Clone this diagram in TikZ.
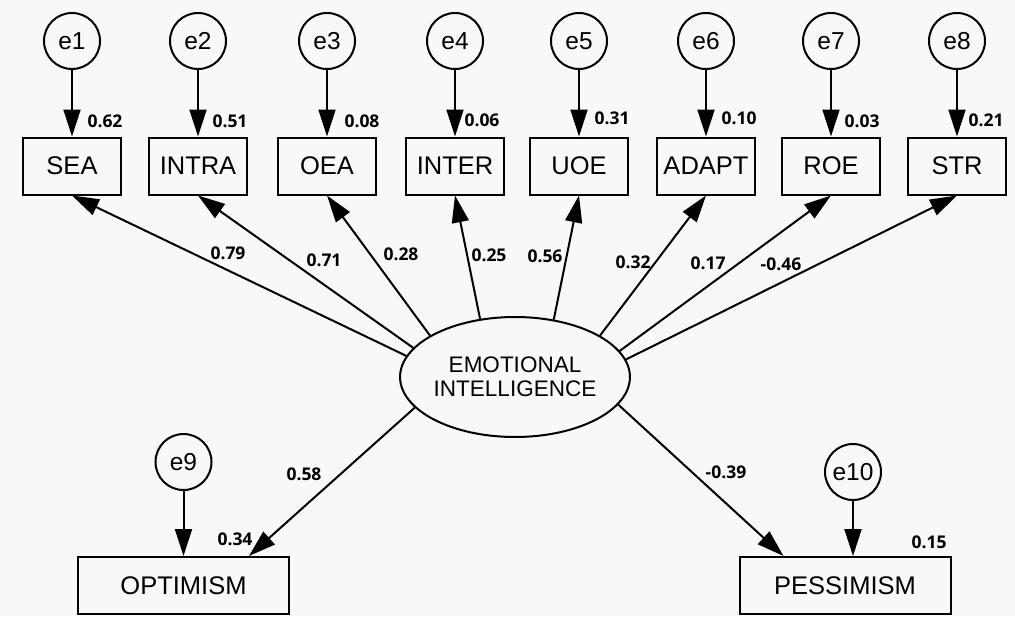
\documentclass[tikz,border=0pt]{standalone}
\usepackage{fontspec}
\setmainfont{Liberation Sans}
\newfontfamily\numfont{Open Sans}
\usetikzlibrary{shapes.geometric,arrows.meta,calc}
\definecolor{bgc}{HTML}{F8F8F8}
\begin{document}
\begin{tikzpicture}[x=1pt,y=-1pt,
  every node/.style={inner sep=0pt},
  obs/.style={draw,line width=2pt,minimum width=98pt,minimum height=57pt,font=\fontsize{25.5}{30}\selectfont},
  obsw/.style={obs,minimum width=211pt},
  err/.style={draw,circle,line width=2pt,minimum size=56pt,font=\fontsize{24.5}{28}\selectfont},
  lat/.style={draw,ellipse,line width=2pt,minimum width=194pt,minimum height=120pt,align=center,font=\fontsize{22.5}{24}\selectfont},
  arr/.style={line width=2pt,-{Triangle[length=27pt,width=17pt]}},
  coef/.style={font=\numfont\bfseries\fontsize{17.5}{19}\selectfont},
]
\fill[bgc] (0,0) rectangle (1015,616);
\useasboundingbox (0,0) rectangle (1015,616);

% latent
\node[lat] (ei) at (515,377) {EMOTIONAL\\INTELLIGENCE};

% indicators
\foreach \n/\t/\x/\e/\v/\lx/\ly in {
  sea/SEA/72/e1/0.62/105/121,
  intra/INTRA/198/e2/0.51/230/121,
  oea/OEA/327/e3/0.08/362/121,
  inter/INTER/455/e4/0.06/482/120,
  uoe/UOE/579/e5/0.31/612/118,
  adapt/ADAPT/706/e6/0.10/739/118,
  roe/ROE/831/e7/0.03/862/121,
  str/STR/957/e8/0.21/986/120}{
  \node[obs] (\n) at (\x,166) {\t};
  \node[err] (\e) at (\x,41) {\e};
  \draw[arr] (\e.south) -- (\n.north);
  \node[coef] (l\e) at (\lx,\ly) {\v};
}

% loadings
\draw[arr] (ei.169.6) -- (sea.south);
\draw[arr] (ei.164.5) -- (intra.south);
\draw[arr] (ei.154.6) -- (oea.south);
\draw[arr] (ei.121.6) -- (inter.south);
\draw[arr] (ei.56.3) -- (uoe.south);
\draw[arr] (ei.26) -- (adapt.south);
\draw[arr] (ei.14.5) -- (roe.south);
\draw[arr] (ei.9.8) -- (str.south);

\node[coef] (c1) at (228,253) {0.79};
\node[coef] (c2) at (324,260) {0.71};
\node[coef] (c3) at (401,254) {0.28};
\node[coef] (c4) at (489,255) {0.25};
\node[coef] (c5) at (545,256) {0.56};
\node[coef] (c6) at (633,262) {0.32};
\node[coef] (c7) at (708,263) {0.17};
\node[coef] (c8) at (781,264) {-0.46};

% outcomes
\node[obsw] (opt) at (183.5,585.5) {OPTIMISM};
\node[obsw] (pes) at (845,585.5) {PESSIMISM};
\node[err] (e9) at (183.5,462) {e9};
\node[err] (e10) at (853,472) {e10};
\draw[arr] (e9.south) -- (opt.north);
\draw[arr] (e10.south) -- (e10.south |- pes.north);
\draw[arr] (ei.-163.5) -- ([xshift=-41pt]opt.north east);
\draw[arr] (ei.-15.8) -- ([xshift=45pt]pes.north west);

\node[coef] (c9) at (304,474) {0.58};
\node[coef] (c10) at (235,539) {0.34};
\node[coef] (c11) at (726,472) {-0.39};
\node[coef] (c12) at (929,542) {0.15};
\end{tikzpicture}
\end{document}
